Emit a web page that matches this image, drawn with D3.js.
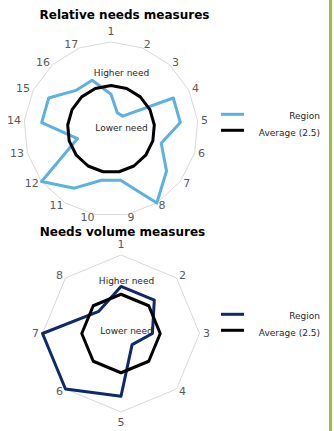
<!DOCTYPE html>
<html>
<head>
<meta charset="utf-8">
<script src="https://cdn.jsdelivr.net/npm/d3@7"></script>
<style>
  html, body { margin: 0; padding: 0; background: #fff; }
  svg { display: block; }
  text { font-family: "DejaVu Sans", Verdana, sans-serif; }
</style>
</head>
<body>
<svg id="chart" width="334" height="431"></svg>
<script>
// ---- data ----
const relativeCategories = ["1","2","3","4","5","6","7","8","9","10","11","12","13","14","15","16","17"];
const relativeRegion = [2, 1, 1, 4, 4, 3, 4, 5, 3, 3, 4, 5, 2, 4, 4, 3, 3];
const relativeAverage = [2.5, 2.5, 2.5, 2.5, 2.5, 2.5, 2.5, 2.5, 2.5, 2.5, 2.5, 2.5, 2.5, 2.5, 2.5, 2.5, 2.5];

const volumeCategories = ["1","2","3","4","5","6","7","8"];
const volumeRegion = [3, 3, 2, 1, 4, 5, 5, 2];
const volumeAverage = [2.5, 2.5, 2.5, 2.5, 2.5, 2.5, 2.5, 2.5];

const valueDomain = [0, 5];
const legendLabels = ["Region", "Average (2.5)"];
const titles = ["Relative needs measures", "Needs volume measures"];

// ---- drawing ----
const svg = d3.select("#chart");

// green right rule
svg.append("rect").attr("x", 329).attr("y", 0).attr("width", 3).attr("height", 431).attr("fill", "#8DC63F");

function radar(opts) {
  const { cx, cy, R, cats, region, average, color, title, titleX, titleY, hiY, loY, noteX, legendY } = opts;
  const g = svg.append("g");
  const n = cats.length;
  const r = d3.scaleLinear().domain(valueDomain).range([0, R]);
  const ang = d3.scalePoint().domain(cats).range([0, 2 * Math.PI * (n - 1) / n]);
  const line = d3.lineRadial().angle((d, i) => ang(cats[i])).radius(d => r(d)).curve(d3.curveLinearClosed);

  // title
  g.append("text").attr("x", titleX).attr("y", titleY).attr("text-anchor", "middle")
    .attr("font-size", 12).attr("font-weight", "bold").attr("fill", "#000").text(title);

  const plot = g.append("g").attr("transform", `translate(${cx},${cy})`);

  // outer grid polygon
  plot.append("path").attr("d", line(cats.map(() => valueDomain[1])))
    .attr("fill", "none").attr("stroke", "#d9d9d9").attr("stroke-width", 1);

  // annotations
  g.append("text").attr("x", noteX).attr("y", hiY).attr("text-anchor", "middle").attr("dominant-baseline", "central")
    .attr("font-size", 9).attr("fill", "#262626").text("Higher need");
  g.append("text").attr("x", noteX).attr("y", loY).attr("text-anchor", "middle").attr("dominant-baseline", "central")
    .attr("font-size", 9).attr("fill", "#262626").text("Lower need");

  // series
  plot.append("path").attr("d", line(region)).attr("fill", "none")
    .attr("stroke", color).attr("stroke-width", 3).attr("stroke-linejoin", "round");
  plot.append("path").attr("d", line(average)).attr("fill", "none")
    .attr("stroke", "#000").attr("stroke-width", 3).attr("stroke-linejoin", "round");

  // category labels
  const gap = 3.4;
  cats.forEach(c => {
    const a = ang(c);
    const s = Math.sin(a), co = Math.cos(a);
    const px = (R + gap) * s, py = -(R + gap) * co;
    const t = plot.append("text").attr("font-size", 11).attr("fill", "#595959").text(c)
      .attr("dominant-baseline", "central");
    if (Math.abs(s) < 1e-6) {
      t.attr("x", px).attr("y", py + (co > 0 ? -7 : 7)).attr("text-anchor", "middle");
    } else {
      t.attr("x", px).attr("y", py).attr("text-anchor", s > 0 ? "start" : "end");
    }
  });

  // legend
  const lg = g.append("g");
  [color, "#000"].forEach((col, i) => {
    const y = legendY + i * 16;
    lg.append("line").attr("x1", 221).attr("x2", 244).attr("y1", y).attr("y2", y)
      .attr("stroke", col).attr("stroke-width", 3);
    lg.append("text").attr("x", 320).attr("y", y + 4.2 + i * 1.2).attr("text-anchor", "end")
      .attr("font-size", 9).attr("fill", "#262626").text(legendLabels[i]);
  });
}

radar({
  cx: 111, cy: 129, R: 87, cats: relativeCategories, region: relativeRegion, average: relativeAverage,
  color: "#5BB1E2", title: titles[0], titleX: 124.5, titleY: 19, hiY: 73.3, loY: 128.3, noteX: 121.5, legendY: 114.3
});

radar({
  cx: 121, cy: 333.5, R: 78.5, cats: volumeCategories, region: volumeRegion, average: volumeAverage,
  color: "#0E2A6B", title: titles[1], titleX: 122.5, titleY: 235.7, hiY: 280.7, loY: 330.7, noteX: 126.5, legendY: 314.3
});
</script>
</body>
</html>
